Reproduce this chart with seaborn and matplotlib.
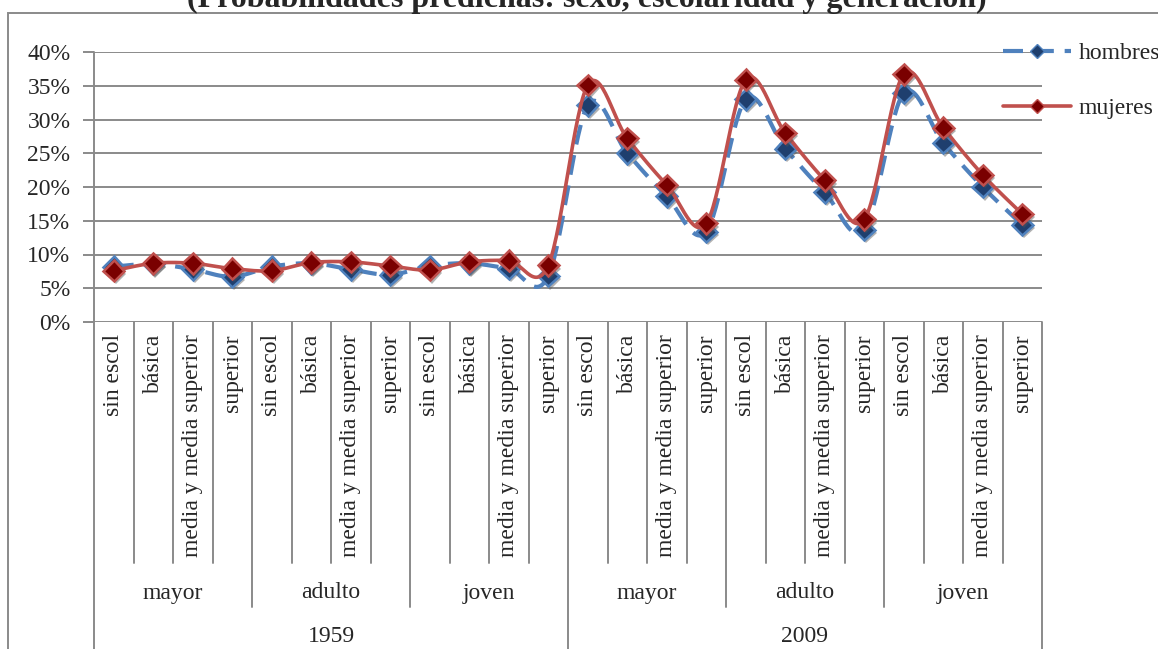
import numpy as np
import pandas as pd
import matplotlib
matplotlib.use("Agg")
import matplotlib.pyplot as plt
import matplotlib.patheffects as pe
from matplotlib.lines import Line2D
from matplotlib.patches import Rectangle
import seaborn as sns

# ---- data -------------------------------------------------------------
years = ["1959", "2009"]
generations = ["mayor", "adulto", "joven"]
schooling = ["sin escol", "básica", "media y media superior", "superior"]

hombres = [8.2, 8.6, 7.8, 6.7, 8.2, 8.7, 7.8, 7.0, 8.3, 8.7, 7.9, 6.8,
           32.1, 25.0, 18.6, 13.4, 33.0, 25.7, 19.2, 13.7, 33.9, 26.5, 20.0, 14.4]
mujeres = [7.6, 8.7, 8.7, 7.9, 7.6, 8.8, 8.9, 8.3, 7.7, 8.9, 9.1, 8.4,
           35.1, 27.2, 20.3, 14.6, 35.9, 28.0, 21.0, 15.2, 36.7, 28.8, 21.8, 16.0]
y_ticks = [0, 5, 10, 15, 20, 25, 30, 35, 40]

# ---- style ------------------------------------------------------------
sns.set_style("white")
plt.rcParams["font.family"] = ["Liberation Serif", "DejaVu Serif"]
FS = 17

W, H = 1158, 649
fig = plt.figure(figsize=(W / 100, H / 100), dpi=100)

ax_left, ax_right, ax_top, ax_bottom = 94, 1042, 52, 322
ax = fig.add_axes([ax_left / W, 1 - ax_bottom / H,
                   (ax_right - ax_left) / W, (ax_bottom - ax_top) / H])

n = len(hombres)
x = np.arange(n)


def smooth(xs, ys, steps=30):
    """Cubic Bezier curve through the points (Catmull-Rom style control points)."""
    pts = np.column_stack([xs, ys]).astype(float)
    ext = np.vstack([pts[0], pts, pts[-1]])
    out = []
    t = np.linspace(0, 1, steps)[:, None]
    for i in range(1, len(ext) - 2):
        p0, p1, p2, p3 = ext[i - 1], ext[i], ext[i + 1], ext[i + 2]
        c1 = p1 + (p2 - p0) / 6.0
        c2 = p2 - (p3 - p1) / 6.0
        seg = ((1 - t) ** 3) * p1 + 3 * ((1 - t) ** 2) * t * c1 + 3 * (1 - t) * t ** 2 * c2 + t ** 3 * p2
        out.append(seg if i == 1 else seg[1:])
    out = np.vstack(out)
    return out[:, 0], out[:, 1] / 100.0


grid_color = "#8a8a8a"
for v in y_ticks:
    ax.axhline(v / 100, color=grid_color, lw=1.4, zorder=0)

blue_line, blue_face = "#4F81BD", "#1F3F6E"
red_line, red_face = "#C0504D", "#7A0000"

hx, hy = smooth(x, hombres)
mx, my = smooth(x, mujeres)
curves = pd.DataFrame({"x": np.concatenate([hx, mx]),
                       "y": np.concatenate([hy, my]),
                       "serie": ["hombres"] * len(hx) + ["mujeres"] * len(mx)})

sns.lineplot(data=curves[curves.serie == "hombres"], x="x", y="y", sort=False,
             estimator=None, color=blue_line, lw=3.0, ax=ax, zorder=2,
             legend=False)
ax.lines[-1].set_dashes([4.8, 2.6])
sns.lineplot(data=curves[curves.serie == "mujeres"], x="x", y="y", sort=False,
             estimator=None, color=red_line, lw=2.6, ax=ax, zorder=4,
             legend=False)

shadow = [pe.SimplePatchShadow(offset=(1.5, -2.4), shadow_rgbFace="#555555", alpha=0.45),
          pe.Normal()]
ax.plot(x, np.array(hombres) / 100, ls="none", marker="D", ms=10.5,
        mfc=blue_face, mec=blue_line, mew=1.8, zorder=3, path_effects=shadow)
ax.plot(x, np.array(mujeres) / 100, ls="none", marker="D", ms=10.5,
        mfc=red_face, mec=red_line, mew=1.8, zorder=5, path_effects=shadow)

ax.set_xlim(-0.5, n - 0.5)
ax.set_ylim(0, 0.40)
ax.set_yticks([v / 100 for v in y_ticks])
ax.set_yticklabels([f"{v}%" for v in y_ticks], fontsize=FS)
ax.tick_params(axis="y", length=8, color=grid_color, width=1.4, pad=9, left=True)
ax.set_xticks([])
ax.set_xlabel("")
ax.set_ylabel("")
for s in ["top", "right", "bottom", "left"]:
    ax.spines[s].set_visible(False)

# multi-level category axis
tr = ax.get_xaxis_transform()
ah = ax_bottom - ax_top


def ay(px):
    return (ax_bottom - px) / ah


line_kw = dict(color=grid_color, lw=1.4, transform=tr, clip_on=False, zorder=1)
ax.plot([-0.5, -0.5], [1.0, ay(H + 20)], **line_kw)
for k in range(1, n + 1):
    xb = k - 0.5
    if k % 12 == 0:
        bottom = ay(H + 20)
    elif k % 4 == 0:
        bottom = ay(607)
    else:
        bottom = ay(563)
    ax.plot([xb, xb], [0, bottom], **line_kw)

for i in range(n):
    ax.text(i, ay(334), schooling[i % 4], rotation=90, ha="center", va="top",
            fontsize=FS, transform=tr)
for g in range(n // 4):
    ax.text(g * 4 + 1.5, ay(593), generations[g % 3], ha="center", va="center",
            fontsize=FS, transform=tr)
for yi, yr in enumerate(years):
    ax.text(yi * 12 + 5.5, ay(636), yr, ha="center", va="center",
            fontsize=FS, transform=tr)

# legend
handles = [Line2D([], [], color=blue_line, lw=3.0, dashes=[4.8, 2.6], marker="D", ms=7,
                  mfc=blue_face, mec=blue_line),
           Line2D([], [], color=red_line, lw=2.6, marker="D", ms=7,
                  mfc=red_face, mec=red_line)]
fig.legend(handles, ["hombres", "mujeres"], loc="upper left",
           bbox_to_anchor=(991 / W, 1 - 31 / H), frameon=False, fontsize=FS,
           handlelength=2.9, handletextpad=0.3, labelspacing=1.4, borderpad=0)

# chart border and title
fig.patches.append(Rectangle((8 / W, -0.2), 2, 1.2 - 13 / H, transform=fig.transFigure,
                             fill=False, ec=grid_color, lw=1.4))
fig.text(587 / W, 1 - 7.5 / H, "(Probabilidades predichas: sexo, escolaridad y generación)",
         ha="center", va="baseline", fontsize=23, fontweight="bold")

fig.savefig("out.png", dpi=100)
